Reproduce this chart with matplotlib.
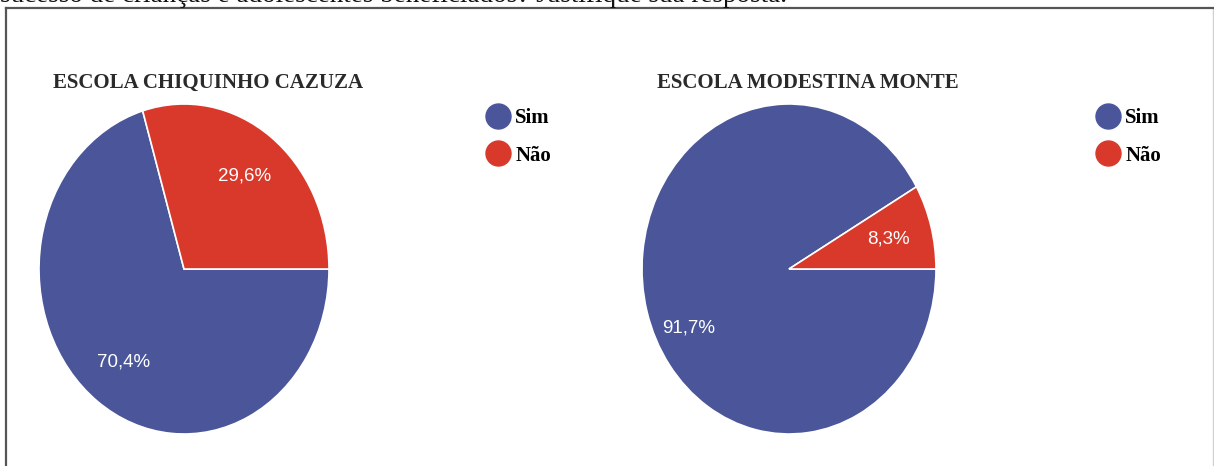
import matplotlib
matplotlib.use("Agg")
import matplotlib.pyplot as plt
from matplotlib.lines import Line2D

# dados
respostas = ["Sim", "Não"]
cores = ["#4a5699", "#d9392b"]
escolas = ["ESCOLA CHIQUINHO CAZUZA", "ESCOLA MODESTINA MONTE"]
chiquinho = [70.4, 29.6]
modestina = [91.7, 8.3]
pergunta = "sucesso de crianças e adolescentes beneficiados? Justifique sua resposta."

W, H = 1214, 466
fig = plt.figure(figsize=(W / 100, H / 100), dpi=100)
fig.patch.set_facecolor("white")


def px(x0, y0, x1, y1):
    # caixa em pixels (topo-esquerda) -> fracao da figura
    return [x0 / W, 1 - y1 / H, (x1 - x0) / W, (y1 - y0) / H]


# moldura
moldura = fig.add_axes(px(6, 8, 1213, 470))
moldura.set_xticks([])
moldura.set_yticks([])
for lado, sp in moldura.spines.items():
    sp.set_color("#555555" if lado in ("left", "top") else "#d0d0d0")
    sp.set_linewidth(1.6 if lado in ("left", "top") else 1.0)
moldura.set_zorder(0)

# linha de texto cortada no topo da imagem original
fig.text(0.0, 1 - 2 / H, pergunta, fontsize=19.5, family="Liberation Serif",
         va="baseline", ha="left", color="#111111")


def fmt(p):
    return f"{p:.1f}%".replace(".", ",")


paineis = [
    (chiquinho, escolas[0], (39, 104, 329, 434), 53, 484, None),
    (modestina, escolas[1], (642, 104, 936, 434), 657, 1094, (-0.68, -0.36)),
]

for valores, titulo, caixa, xt, xl, pos_sim in paineis:
    ax = fig.add_axes(px(*caixa))
    fatias, _, textos = ax.pie(valores, colors=cores, startangle=0, counterclock=False,
                               autopct=fmt, pctdistance=0.7, radius=1,
                               wedgeprops=dict(edgecolor="white", linewidth=1.2),
                               textprops=dict(color="white", fontsize=13.5,
                                              family="Liberation Sans"))
    if pos_sim is not None:
        textos[0].set_position(pos_sim)
    ax.set_aspect("auto")
    ax.set_xlim(-1, 1)
    ax.set_ylim(-1, 1)
    ax.axis("off")

    fig.text(xt / W, 1 - 83 / H, titulo, fontsize=15, fontweight="bold",
             family="Liberation Serif", color="#2a2a2a", va="center", ha="left")

    alcas = [Line2D([], [], marker="o", linestyle="none", markersize=18,
                    markerfacecolor=c, markeredgecolor=c) for c in cores]
    fig.legend(alcas, respostas, loc="upper left",
               bbox_to_anchor=(xl / W, 1 - 108 / H), frameon=False,
               prop=dict(family="Liberation Serif", weight="bold", size=15),
               handletextpad=0.2, labelspacing=0.85, handlelength=1.3,
               borderaxespad=0, borderpad=0)

fig.savefig("out.png", dpi=100)
